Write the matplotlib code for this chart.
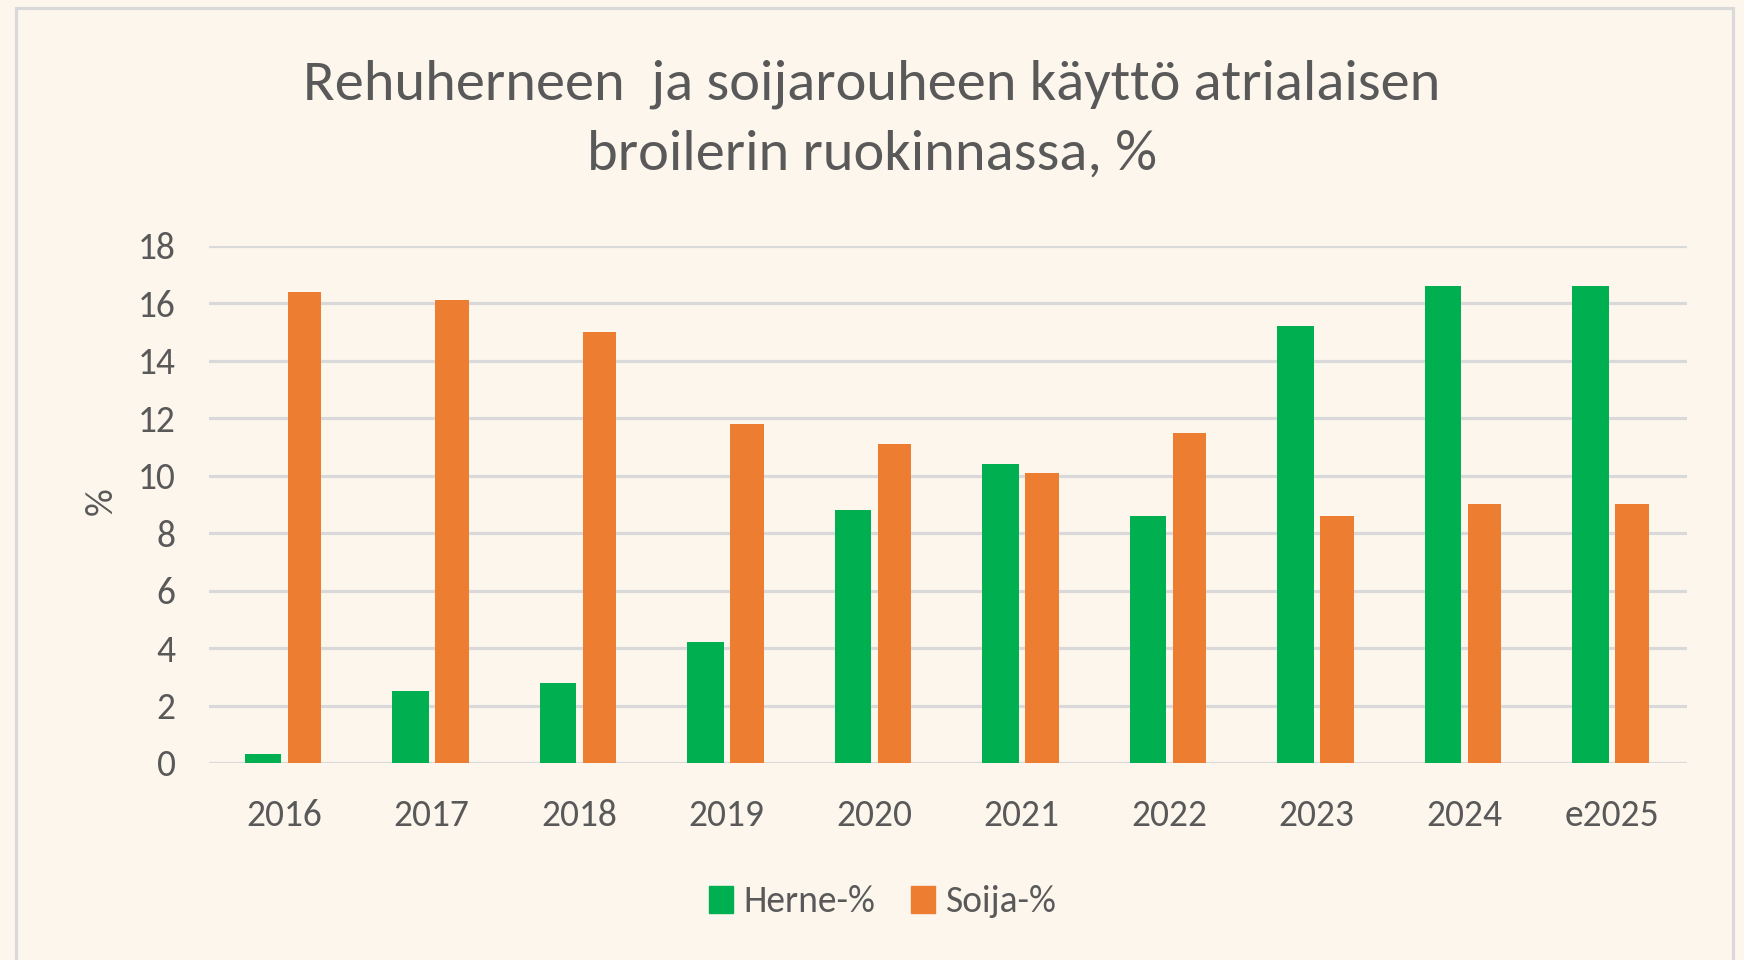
import numpy as np
import matplotlib
matplotlib.use("Agg")
import matplotlib.pyplot as plt
from matplotlib import font_manager
from matplotlib.patches import Rectangle, Patch

# ---- data ----
years = ["2016", "2017", "2018", "2019", "2020", "2021", "2022", "2023", "2024", "e2025"]
herne = [0.3, 2.5, 2.8, 4.2, 8.8, 10.4, 8.6, 15.2, 16.6, 16.6]
soija = [16.4, 16.1, 15.0, 11.8, 11.1, 10.1, 11.5, 8.6, 9.0, 9.0]
yticks = [0, 2, 4, 6, 8, 10, 12, 14, 16, 18]
title = "Rehuherneen  ja soijarouheen käyttö atrialaisen\nbroilerin ruokinnassa, %"
series_names = ["Herne-%", "Soija-%"]

# ---- font choice ----
names = {f.name for f in font_manager.fontManager.ttflist}
font = "Lato"
for cand in ["Carlito", "Liberation Sans Narrow", "Lato"]:
    if cand in names:
        font = cand
        break
plt.rcParams["font.family"] = [font, "DejaVu Sans"]

BG = "#FDF6ED"
TXT = "#595959"
GRID = "#D9D9D9"
GREEN = "#00B050"
ORANGE = "#ED7D31"

W, H = 1744, 960
fig = plt.figure(figsize=(W / 100, H / 100), dpi=100, facecolor=BG)

# outer chart border
fig.patches.append(Rectangle((16 / W, -0.05), (1733 - 16) / W, 1.05 - 8 / H,
                             transform=fig.transFigure, fill=False,
                             edgecolor=GRID, linewidth=2.3, zorder=0))

ax = fig.add_axes([209 / W, 1 - 763 / H, (1687 - 209) / W, (763 - 245.8) / H])
ax.set_facecolor(BG)

x = np.arange(len(years))
ax.bar(x - 0.144, herne, width=0.248, color=GREEN, zorder=3, label=series_names[0])
ax.bar(x + 0.138, soija, width=0.228, color=ORANGE, zorder=3, label=series_names[1])

ax.set_xlim(-0.51, len(years) - 0.49)
ax.set_ylim(0, 18)
ax.set_yticks(yticks)
ax.set_yticklabels([str(v) for v in yticks])
ax.set_xticks(x)
ax.set_xticklabels(years)
ax.yaxis.grid(True, color=GRID, linewidth=2.3, zorder=0)
ax.set_axisbelow(True)
for s in ax.spines.values():
    s.set_visible(False)
ax.tick_params(axis="both", length=0, labelcolor=TXT, labelsize=27)
ax.tick_params(axis="y", pad=24)
ax.tick_params(axis="x", pad=26)

ax.set_ylabel("%", color=TXT, fontsize=28)
ax.yaxis.set_label_coords(-0.0618, 0.506)

fig.text(0.5, 1 - 119 / H, title, ha="center", va="center", color=TXT,
         fontsize=42, linespacing=1.52)

handles = [Patch(facecolor=GREEN, edgecolor=GREEN), Patch(facecolor=ORANGE, edgecolor=ORANGE)]
leg = fig.legend(handles, series_names, loc="center", bbox_to_anchor=(883 / W, 1 - 902 / H),
                 ncol=2, frameon=False, fontsize=27, handlelength=0.62, handleheight=0.75,
                 handletextpad=0.3, columnspacing=0.95)
for t in leg.get_texts():
    t.set_color(TXT)

fig.savefig("out.png", dpi=100, facecolor=BG)
